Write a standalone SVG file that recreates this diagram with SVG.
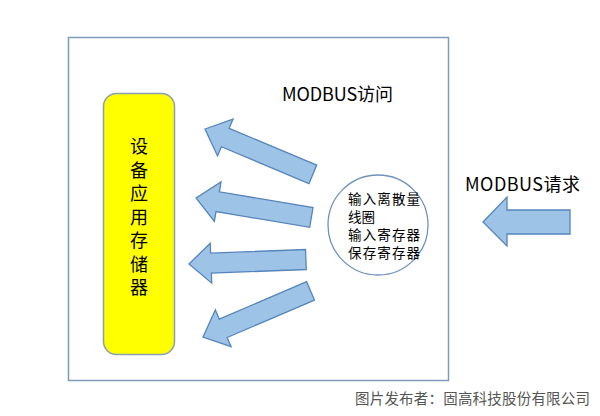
<svg xmlns="http://www.w3.org/2000/svg" width="600" height="416" viewBox="0 0 600 416">
<style>
.arrow{fill:#9DC3E6;stroke:#5585BC;stroke-width:1.3;stroke-linejoin:miter}
.t{font-family:"Noto Sans CJK SC","Liberation Sans",sans-serif;fill:#000}
.lbl{font-size:18px}
.ct{font-size:13.5px}
.yt{font-size:18px;text-anchor:middle}
.wm{font-family:"Noto Sans CJK SC",sans-serif;font-size:14.5px;fill:#555}
</style>
<defs>
<path id="arr" d="M0,0 L22,-20 L22,-10 L117,-10 L117,10 L22,10 L22,20 Z"/>
</defs>
<rect x="0" y="0" width="600" height="416" fill="#fff"/>
<g id="frame">
<rect x="68.5" y="37.5" width="380" height="343" fill="#fff" stroke="#7F9CBC" stroke-width="1.5"/>
</g>
<g id="storage">
<rect x="103.5" y="93.5" width="71" height="261" rx="13" ry="13" fill="#FFFF00" stroke="#8A9FB5" stroke-width="1.5"/>
<text class="t yt" x="139" y="153">设</text>
<text class="t yt" x="139" y="176.5">备</text>
<text class="t yt" x="139" y="200">应</text>
<text class="t yt" x="139" y="223.5">用</text>
<text class="t yt" x="139" y="247">存</text>
<text class="t yt" x="139" y="270.5">储</text>
<text class="t yt" x="139" y="294">器</text>
</g>
<g id="access-label">
<text class="t lbl" x="282" y="101" textLength="111">MODBUS访问</text>
</g>
<g id="registers">
<circle cx="378" cy="225" r="50" fill="#fff" stroke="#6F93BE" stroke-width="1.3"/>
<text class="t ct" x="348" y="204" textLength="72">输入离散量</text>
<text class="t ct" x="348" y="222">线圈</text>
<text class="t ct" x="348" y="240" textLength="72">输入寄存器</text>
<text class="t ct" x="348" y="258" textLength="72">保存寄存器</text>
</g>
<g id="request-label">
<text class="t lbl" x="465" y="191" textLength="115">MODBUS请求</text>
</g>
<g id="connectors">
<use href="#arr" class="arrow" transform="translate(205,129) rotate(22.8)"/>
<use href="#arr" class="arrow" transform="translate(196,198) rotate(9.6)"/>
<use href="#arr" class="arrow" transform="translate(189,264) rotate(-2.2)"/>
<use href="#arr" class="arrow" transform="translate(203,337) rotate(-23.2)"/>
<path class="arrow" d="M483,222 L507,197 L507,210 L570,210 L570,234 L507,234 L507,246 Z"/>
</g>
<text class="wm" x="355" y="404" textLength="235">图片发布者：固高科技股份有限公司</text>
</svg>
